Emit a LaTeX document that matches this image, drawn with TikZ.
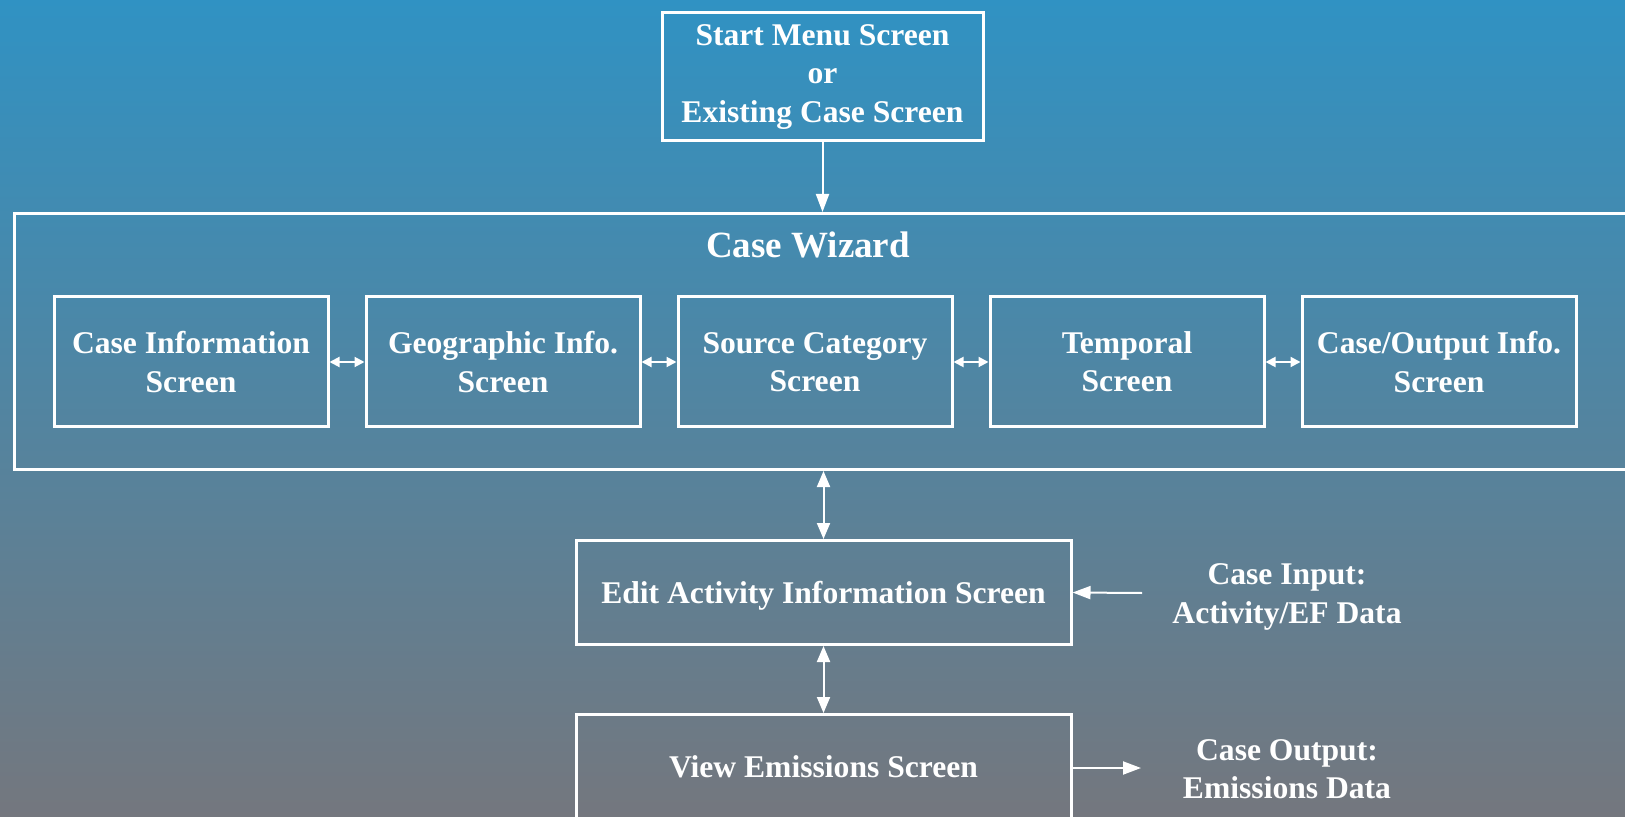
\documentclass[tikz,border=0pt]{standalone}
\usepackage{fontspec}
\setmainfont{Liberation Serif}
\usetikzlibrary{positioning,arrows.meta}
\definecolor{topblue}{RGB}{48,146,195}
\definecolor{botgrey}{RGB}{116,119,126}

\begin{document}
\begin{tikzpicture}[x=0.5pt, y=-0.5pt, white, line width=1.5pt, node distance=17.5pt,
    main/.style = {draw, minimum width=137pt, minimum height=65pt, align=center, inner sep=0pt,
                   font=\fontsize{15.8}{19.1}\selectfont\bfseries},
    wide/.style = {main, minimum width=247.5pt, minimum height=52pt, text depth=0pt},
    plain/.style = {align=center, inner sep=0pt, font=\fontsize{15.8}{19.1}\selectfont\bfseries},
    arr/.style = {line width=1pt, -{Triangle[length=9pt,width=6.5pt]}},
    darr/.style = {line width=1pt, {Triangle[length=8pt,width=6.5pt]}-{Triangle[length=8pt,width=6.5pt]}},
    sarr/.style = {line width=1pt, {Triangle[length=5pt,width=5pt]}-{Triangle[length=5pt,width=5pt]}}]
        \useasboundingbox (0,0) rectangle (1625,817);
        \clip (0,0) rectangle (1625,817);
        \shade[top color=topblue, bottom color=botgrey] (0,0) rectangle (1625,817);

        \node[main, minimum width=160.5pt, minimum height=64pt] (start) at (822.5,77) {Start Menu Screen\\or\\Existing Case Screen};
        \node[draw, minimum width=813pt, minimum height=128pt] (wizard) at (827,341.5) {};
        \node[plain, font=\fontsize{18.5}{22}\selectfont\bfseries] (title) at (808,245) {Case Wizard};

        % screens inside the wizard
        \node[main] (info) at (191,362) {Case Information\\Screen};
        \node[main] (geo) [right=of info] {Geographic Info.\\Screen};
        \node[main] (source) [right=of geo] {Source Category\\Screen};
        \node[main] (temporal) [right=of source] {Temporal\\Screen};
        \node[main] (output) [right=of temporal] {Case/Output Info.\\Screen};

        \node[wide] (edit) at (823.5,592.5) {Edit Activity Information Screen};
        \node[wide] (view) at (823.5,766.5) {View Emissions Screen};
        \node[plain] (input) at (1287,597) {Case Input:\\Activity/EF Data};
        \node[plain] (result) at (1287,769) {Case Output:\\Emissions Data};
        \coordinate (infrom) at (1142,593);
        \coordinate (outto) at (1141,768);

        \draw[arr] (start.south) -- (start.south |- wizard.north);
        \draw[sarr] (info) -- (geo);
        \draw[sarr] (geo) -- (source);
        \draw[sarr] (source) -- (temporal);
        \draw[sarr] (temporal) -- (output);
        \draw[darr] (edit.north) -- (edit.north |- wizard.south);
        \draw[darr] (edit) -- (view);
        \draw[arr] (infrom) -- (edit.east);
        \draw[arr] (view.east |- outto) -- (outto);
    \end{tikzpicture}
\end{document}
